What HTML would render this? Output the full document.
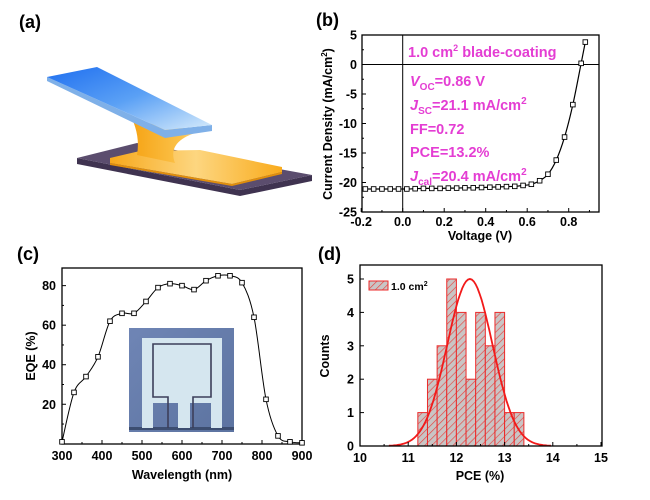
<!DOCTYPE html>
<html><head><meta charset="utf-8"><style>
body{margin:0;background:#fff;}
svg{display:block;font-family:"Liberation Sans",Arial,sans-serif;}
.t{font-weight:bold;font-size:12.5px;fill:#000;}
.pl{font-weight:bold;font-size:18px;fill:#000;}
.mg{font-weight:bold;font-size:14.5px;fill:#e43dd3;}
</style></head><body>
<svg id="fig" width="650" height="500" viewBox="0 0 650 500">
<defs>
<linearGradient id="blueG" x1="0" y1="0" x2="1" y2="1"><stop offset="0" stop-color="#1f6ff0"/><stop offset="0.5" stop-color="#5aa0f5"/><stop offset="1" stop-color="#d8ecfb"/></linearGradient>
<linearGradient id="orG" x1="0" y1="0" x2="1" y2="0"><stop offset="0" stop-color="#f7a81b"/><stop offset="0.5" stop-color="#fdd680"/><stop offset="1" stop-color="#f9ab1c"/></linearGradient>
<linearGradient id="neckG" x1="0" y1="0" x2="1" y2="0"><stop offset="0" stop-color="#f6a416"/><stop offset="0.7" stop-color="#fbc24a"/><stop offset="1" stop-color="#fde0a0"/></linearGradient>
<linearGradient id="photoG" x1="0" y1="0" x2="1" y2="1"><stop offset="0" stop-color="#6f85b5"/><stop offset="1" stop-color="#5c73a0"/></linearGradient>
<pattern id="hatch" patternUnits="userSpaceOnUse" width="5" height="5" patternTransform="rotate(45)"><rect width="5" height="5" fill="#c9c5c5"/><line x1="0" y1="0" x2="0" y2="5" stroke="#e8423f" stroke-width="1.3"/></pattern>
</defs>

<text class="pl" x="19" y="28">(a)</text>
<text class="pl" x="316" y="26">(b)</text>
<text class="pl" x="17" y="260">(c)</text>
<text class="pl" x="318" y="260">(d)</text>

<g>
<polygon points="77,158 77,164 240,196 312,181 312,175 240,190" fill="#3f3350"/>
<polygon points="77,158 137,143 312,175 240,190" fill="#5b4d6e"/>
<polygon points="110,158 140,151 200,150 282,167 282,172 232,184 110,163" fill="url(#orG)"/>
<polygon points="110,163 232,184 282,172 282,174 232,186 110,165" fill="#e08e0c"/>
<path d="M133,121 Q140,138 137,155 L175,163 Q166,140 202,131 Z" fill="url(#neckG)"/>
<polygon points="47,77 47,81 165,138 212,131 212,125 165,130" fill="#7fb0e8"/>
<polygon points="47,77 97,67 212,125 165,130" fill="url(#blueG)"/>
</g>

<g id="pb"></g>
<g id="pc"></g>
<g id="pd"></g>
</svg>
<script>
const NS="http://www.w3.org/2000/svg";
function mk(p,tag,a,txt){const e=document.createElementNS(NS,tag);for(const k in a)e.setAttribute(k,a[k]);if(txt!==undefined)e.textContent=txt;p.appendChild(e);return e;}
function smooth(pts){let d="M"+pts[0][0]+","+pts[0][1];for(let i=0;i<pts.length-1;i++){const p0=pts[i-1]||pts[i],p1=pts[i],p2=pts[i+1],p3=pts[i+2]||p2;d+=" C"+(p1[0]+(p2[0]-p0[0])/6)+","+(p1[1]+(p2[1]-p0[1])/6)+" "+(p2[0]-(p3[0]-p1[0])/6)+","+(p2[1]-(p3[1]-p1[1])/6)+" "+p2[0]+","+p2[1];}return d;}

const jvVoltage=[-0.18,-0.14,-0.10,-0.06,-0.02,0.02,0.06,0.10,0.14,0.18,0.22,0.26,0.30,0.34,0.38,0.42,0.46,0.50,0.54,0.58,0.62,0.66,0.70,0.74,0.78,0.82,0.86,0.88];
const jvCurrent=[-21.1,-21.1,-21.1,-21.1,-21.1,-21.1,-21.05,-21.0,-21.0,-21.0,-20.95,-20.95,-20.9,-20.9,-20.85,-20.8,-20.75,-20.7,-20.65,-20.5,-20.3,-19.7,-18.6,-16.2,-12.3,-6.8,0.2,3.8];
const jvXTicks=[-0.2,0.0,0.2,0.4,0.6,0.8];
const jvYTicks=[5,0,-5,-10,-15,-20,-25];
{
const g=document.getElementById('pb');
const L=362,R=599,T=35,B=212;
const xs=v=>402.7+(v)*207.5, ys=j=>T+(5-j)*(B-T)/30;
let r=mk(g,'rect',{x:L,y:T,width:R-L,height:B-T,fill:'none',stroke:'#000','stroke-width':1.3});

let zl=mk(g,'line',{x1:L,x2:R,y1:ys(0),y2:ys(0),stroke:'#000','stroke-width':1});

let vl=mk(g,'line',{x1:xs(0),x2:xs(0),y1:T,y2:B,stroke:'#000','stroke-width':1});

jvXTicks.forEach(v=>{mk(g,'line',{x1:xs(v),x2:xs(v),y1:B,y2:B-4,stroke:'#000'});mk(g,'line',{x1:xs(v+0.1),x2:xs(v+0.1),y1:B,y2:B-2,stroke:'#000'});
 const t=mk(g,'text',{x:xs(v),y:B+14,'text-anchor':'middle',class:'t'},v.toFixed(1));});
jvYTicks.forEach(j=>{mk(g,'line',{x1:L,x2:L+4,y1:ys(j),y2:ys(j),stroke:'#000'});if(j>-25)mk(g,'line',{x1:L,x2:L+2,y1:ys(j-2.5),y2:ys(j-2.5),stroke:'#000'});
 const t=mk(g,'text',{x:L-5,y:ys(j)+4.5,'text-anchor':'end',class:'t'},String(j));});
const pts=jvVoltage.map((v,i)=>[xs(v),ys(jvCurrent[i])]);
let p=mk(g,'path',{d:smooth(pts),fill:'none',stroke:'#000','stroke-width':1.2});

pts.forEach(q=>{const m=mk(g,'rect',{x:q[0]-2.3,y:q[1]-2.3,width:4.6,height:4.6,fill:'#fff',stroke:'#000','stroke-width':0.9});});
let xt=mk(g,'text',{x:480,y:240,'text-anchor':'middle',class:'t'},'Voltage (V)');
let yt=mk(g,'text',{x:0,y:0,transform:'translate(332,124) rotate(-90)','text-anchor':'middle',class:'t'});yt.innerHTML='Current Density (mA/cm<tspan font-size="8" dy="-5">2</tspan><tspan dy="5">)</tspan>';

const ann=[[408,57,'1.0 cm<tspan font-size="9" dy="-6">2</tspan><tspan dy="6"> blade-coating</tspan>'],
[410,86,'<tspan font-style="italic">V</tspan><tspan font-size="10" dy="4">OC</tspan><tspan dy="-4">=0.86 V</tspan>'],
[410,110,'<tspan font-style="italic">J</tspan><tspan font-size="10" dy="4">SC</tspan><tspan dy="-4">=21.1 mA/cm</tspan><tspan font-size="10" dy="-6">2</tspan>'],
[410,134,'FF=0.72'],[410,157,'PCE=13.2%'],
[410,181,'<tspan font-style="italic">J</tspan><tspan font-size="10" dy="4">cal</tspan><tspan dy="-4">=20.4 mA/cm</tspan><tspan font-size="10" dy="-6">2</tspan>']];
ann.forEach(a=>{const t=mk(g,'text',{x:a[0],y:a[1],class:'mg'});t.innerHTML=a[2];});
}

const eqeWavelength=[300,330,360,390,420,450,480,510,540,570,600,630,660,690,720,750,780,810,840,870,900];
const eqeValue=[1,26,34,44,62,66,66,72,79,81,80,78,82.5,85,85,81.5,64,22.5,4,1,0.5];
const eqeXTicks=[300,400,500,600,700,800,900];
const eqeYTicks=[20,40,60,80];
{
const g=document.getElementById('pc');
const L=62,R=302,T=268,B=444;
const xs=w=>L+(w-300)*(R-L)/600, ys=v=>443.8-v*1.977;
let r=mk(g,'rect',{x:L,y:T,width:R-L,height:B-T,fill:'none',stroke:'#000','stroke-width':1.3});

eqeXTicks.forEach(w=>{mk(g,'line',{x1:xs(w),x2:xs(w),y1:B,y2:B-4,stroke:'#000'});if(w<900)mk(g,'line',{x1:xs(w+50),x2:xs(w+50),y1:B,y2:B-2,stroke:'#000'});
 const t=mk(g,'text',{x:xs(w),y:B+16,'text-anchor':'middle',class:'t'},String(w));});
eqeYTicks.forEach(v=>{mk(g,'line',{x1:L,x2:L+4,y1:ys(v),y2:ys(v),stroke:'#000'});mk(g,'line',{x1:L,x2:L+2,y1:ys(v-10),y2:ys(v-10),stroke:'#000'});
 const t=mk(g,'text',{x:L-6,y:ys(v)+4.5,'text-anchor':'end',class:'t'},String(v));});
const ph=mk(g,'g',{});
mk(ph,'rect',{x:129,y:328,width:105,height:104,fill:'url(#photoG)'});
mk(ph,'rect',{x:129,y:427,width:105,height:3,fill:'#3c4d70'});
mk(ph,'rect',{x:142,y:338,width:80,height:65,fill:'#d5e6ef'});
mk(ph,'rect',{x:142,y:403,width:11,height:25,fill:'#d5e6ef'});
mk(ph,'rect',{x:211,y:403,width:11,height:25,fill:'#d5e6ef'});
mk(ph,'rect',{x:178,y:398,width:12,height:30,fill:'#d5e6ef'});
mk(ph,'path',{d:'M168,428 V397 H153 V344 H211 V397 H193 V428',fill:'none',stroke:'#3d3f5a','stroke-width':1.6});
const pts=eqeWavelength.map((w,i)=>[xs(w),ys(eqeValue[i])]);
let p=mk(g,'path',{d:smooth(pts),fill:'none',stroke:'#000','stroke-width':1});

pts.forEach(q=>{const m=mk(g,'rect',{x:q[0]-2.3,y:q[1]-2.3,width:4.6,height:4.6,fill:'#fff',stroke:'#000','stroke-width':0.9});});
let xt=mk(g,'text',{x:182,y:479,'text-anchor':'middle',class:'t'},'Wavelength (nm)');
let yt=mk(g,'text',{x:0,y:0,transform:'translate(35,356) rotate(-90)','text-anchor':'middle',class:'t'},'EQE (%)');
}

const binStarts=[11.2,11.4,11.6,11.8,12.0,12.2,12.4,12.6,12.8,13.0,13.2];
const binCounts=[1,2,3,5,4,2,4,3,4,1,1];
const fitMean=[12.28];
const fitSigma=[0.47];
const fitPeak=[5];
const pceXTicks=[10,11,12,13,14,15];
const pceYTicks=[0,1,2,3,4,5];
{
const g=document.getElementById('pd');
const L=360,R=602,T=265,B=446;
const xs=v=>L+(v-10)*48.2, ys=c=>B-c*33.4;
binStarts.forEach((b,i)=>{const r=mk(g,'rect',{x:xs(b),y:ys(binCounts[i]),width:xs(b+0.2)-xs(b),height:B-ys(binCounts[i]),fill:'url(#hatch)',stroke:'#ec2a2a','stroke-width':1});
 });
let pts=[];for(let x=10.6;x<=13.96;x+=0.04){pts.push([xs(x),ys(fitPeak[0]*Math.exp(-Math.pow(x-fitMean[0],2)/(2*fitSigma[0]*fitSigma[0])))]);}
let p=mk(g,'path',{d:'M'+pts.map(q=>q[0].toFixed(1)+','+q[1].toFixed(1)).join(' L'),fill:'none',stroke:'#f21a1a','stroke-width':1.8});

let r=mk(g,'rect',{x:L,y:T,width:R-L,height:B-T,fill:'none',stroke:'#000','stroke-width':1.3});

pceXTicks.forEach(v=>{mk(g,'line',{x1:xs(v),x2:xs(v),y1:B,y2:B-4,stroke:'#000'});if(v<15)mk(g,'line',{x1:xs(v+0.5),x2:xs(v+0.5),y1:B,y2:B-2,stroke:'#000'});
 const t=mk(g,'text',{x:xs(v),y:B+16,'text-anchor':'middle',class:'t'},String(v));});
pceYTicks.forEach(c=>{mk(g,'line',{x1:L,x2:L+4,y1:ys(c),y2:ys(c),stroke:'#000'});
 const t=mk(g,'text',{x:L-6,y:ys(c)+4.5,'text-anchor':'end',class:'t'},String(c));});
let lg=mk(g,'rect',{x:369,y:281,width:19,height:9,fill:'url(#hatch)',stroke:'#ec2a2a','stroke-width':1});
let lt=mk(g,'text',{x:391,y:290,'font-size':'10.5','font-weight':'bold'});lt.innerHTML='1.0 cm<tspan font-size="7" dy="-4">2</tspan>';
let xt=mk(g,'text',{x:480,y:480,'text-anchor':'middle',class:'t'},'PCE (%)');
let yt=mk(g,'text',{x:0,y:0,transform:'translate(329,356) rotate(-90)','text-anchor':'middle',class:'t'},'Counts');
}
</script>
</body></html>
